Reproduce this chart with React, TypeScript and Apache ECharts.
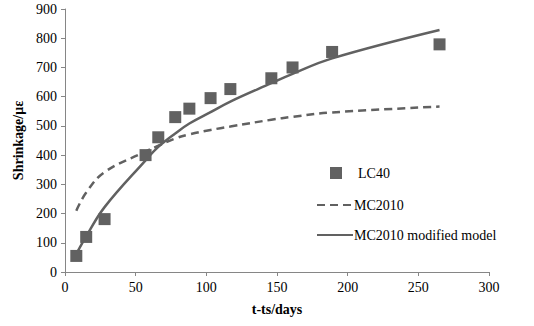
import React, { useEffect, useRef } from "react";
import * as echarts from "echarts";

const days = [8, 15, 28, 57, 66, 78, 88, 103, 117, 146, 161, 189, 265];
const lc40 = [55, 120, 181, 400, 461, 530, 559, 595, 626, 663, 700, 753, 779];
const mc2010 = [210, 272, 342, 412, 432, 457, 471, 486, 498, 521, 531, 546, 566];
const mc2010Modified = [62, 122, 222, 382, 428, 474, 508, 547, 583, 646, 678, 731, 828];
const xTicks = [0, 50, 100, 150, 200, 250, 300];
const yTicks = [0, 100, 200, 300, 400, 500, 600, 700, 800, 900];

const GREY = "#616161";
const FONT = "'Liberation Serif', 'Times New Roman', serif";

export default function App() {
  const ref = useRef<HTMLDivElement>(null);
  useEffect(() => {
    const chart = echarts.init(ref.current!, null, { renderer: "svg" });
    const pair = (ys: number[]) => days.map((d, i) => [d, ys[i]]);
    const lineLegend = (name: string, top: number) => ({
      data: [name],
      orient: "vertical",
      left: 311,
      top,
      itemWidth: 36,
      itemHeight: 12,
      itemStyle: { color: "transparent", borderWidth: 0, opacity: 0 },
      textStyle: { fontFamily: FONT, fontSize: 14, color: "#000", padding: [0, 0, 0, -4] },
    });
    chart.setOption({
      animation: false,
      backgroundColor: "#ffffff",
      grid: { left: 65, right: 45, top: 9, bottom: 54 },
      xAxis: {
        type: "value",
        min: xTicks[0],
        max: xTicks[xTicks.length - 1],
        interval: 50,
        name: "t-ts/days",
        nameLocation: "middle",
        nameGap: 30,
        nameTextStyle: { fontFamily: FONT, fontSize: 14, fontWeight: "bold", color: "#000" },
        axisLine: { lineStyle: { color: "#868686", width: 1 } },
        axisTick: { show: true, length: 4, lineStyle: { color: "#868686" } },
        axisLabel: { fontFamily: FONT, fontSize: 14, color: "#000", margin: 8 },
        splitLine: { show: false },
      },
      yAxis: {
        type: "value",
        min: yTicks[0],
        max: yTicks[yTicks.length - 1],
        interval: 100,
        name: "Shrinkage/με",
        nameLocation: "middle",
        nameGap: 38,
        nameTextStyle: { fontFamily: FONT, fontSize: 14, fontWeight: "bold", color: "#000" },
        axisLine: { show: true, lineStyle: { color: "#868686", width: 1 } },
        axisTick: { show: true, length: 4, lineStyle: { color: "#868686" } },
        axisLabel: { fontFamily: FONT, fontSize: 14, color: "#000", margin: 8 },
        splitLine: { show: false },
      },
      legend: [
        {
          data: ["LC40"],
          orient: "vertical",
          left: 325,
          top: 161,
          itemWidth: 12,
          itemHeight: 12,
          textStyle: { fontFamily: FONT, fontSize: 14, color: "#000", padding: [0, 0, 0, 11] },
        },
        lineLegend("MC2010", 193),
        lineLegend("MC2010 modified model", 223),
      ],
      series: [
        {
          name: "MC2010",
          type: "line",
          data: pair(mc2010),
          smooth: 0.4,
          symbol: "none",
          lineStyle: { color: GREY, width: 2.5, type: [8, 5] },
          itemStyle: { color: GREY },
          z: 2,
        },
        {
          name: "MC2010 modified model",
          type: "line",
          data: pair(mc2010Modified),
          smooth: 0.4,
          symbol: "none",
          lineStyle: { color: GREY, width: 2.5 },
          itemStyle: { color: GREY },
          z: 2,
        },
        {
          name: "LC40",
          type: "scatter",
          data: pair(lc40),
          symbol: "rect",
          symbolSize: 12,
          itemStyle: { color: GREY, opacity: 1 },
          z: 3,
        },
      ],
    });
    return () => chart.dispose();
  }, []);
  return <div ref={ref} style={{ width: 534, height: 326, position: "absolute", left: 0, top: 0 }} />;
}
